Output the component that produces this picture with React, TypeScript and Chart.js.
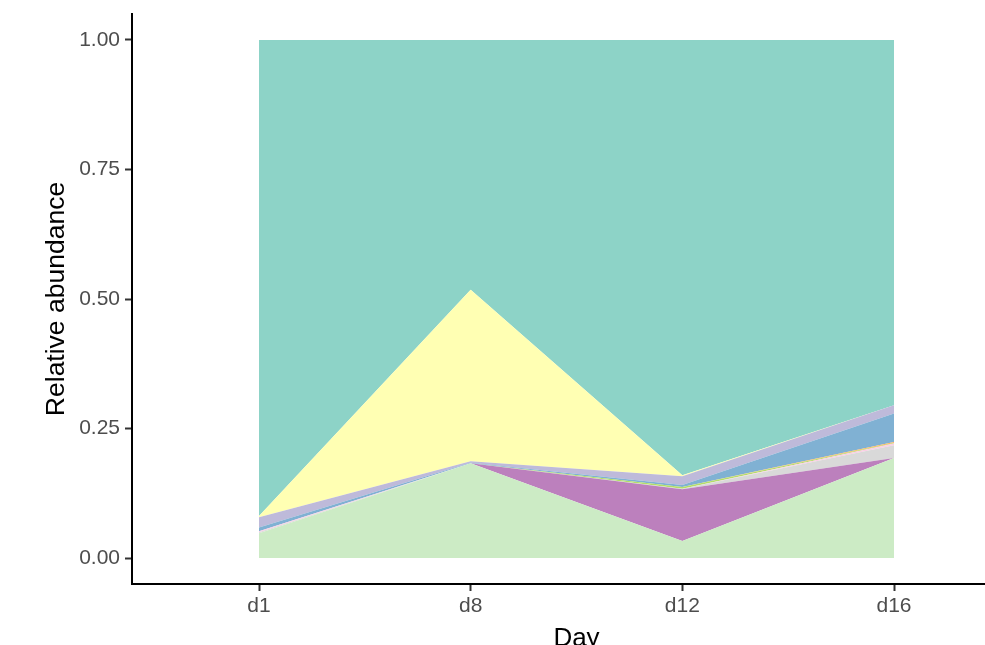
import React, { useEffect, useRef } from "react";
import { Chart, registerables } from "chart.js";

Chart.register(...registerables);

// Categories (x)
const days = ["d1", "d8", "d12", "d16"];
const dayPositions = [1, 2, 3, 4];
const yTickValues = [0, 0.25, 0.5, 0.75, 1];

// Series, listed bottom -> top of the stack
const seriesNames = [
  "Taxon K", "Taxon J", "Taxon I", "Taxon H", "Taxon G", "Taxon F",
  "Taxon E", "Taxon D", "Taxon C", "Taxon B", "Taxon A",
];
const taxonK = [0.048, 0.183, 0.033, 0.193];
const taxonJ = [0.0, 0.0, 0.1, 0.0];
const taxonI = [0.002, 0.0, 0.001, 0.025];
const taxonH = [0.002, 0.0, 0.0, 0.003];
const taxonG = [0.0, 0.0, 0.003, 0.001];
const taxonF = [0.0, 0.0, 0.0, 0.002];
const taxonE = [0.007, 0.001, 0.004, 0.055];
const taxonD = [0.0, 0.0, 0.0, 0.0];
const taxonC = [0.02, 0.003, 0.017, 0.016];
const taxonB = [0.002, 0.331, 0.002, 0.0];
const taxonA = [0.919, 0.482, 0.84, 0.705];

const seriesValues = [taxonK, taxonJ, taxonI, taxonH, taxonG, taxonF, taxonE, taxonD, taxonC, taxonB, taxonA];
const seriesColors = [
  "#CCEBC5", "#BC80BD", "#D9D9D9", "#FCCDE5", "#B3DE69", "#FDB462",
  "#80B1D3", "#FB8072", "#BEBADA", "#FFFFB3", "#8DD3C7",
];

const FONT = "'Liberation Sans', Arial, Helvetica, sans-serif";

export default function App() {
  const ref = useRef<HTMLCanvasElement | null>(null);

  useEffect(() => {
    if (!ref.current) return;
    const datasets = seriesNames.map((name, i) => ({
      label: name,
      data: dayPositions.map((x, j) => ({ x, y: seriesValues[i][j] })),
      backgroundColor: seriesColors[i],
      borderColor: seriesColors[i],
      borderWidth: 0,
      pointRadius: 0,
      pointHoverRadius: 0,
      tension: 0,
      fill: i === 0 ? "origin" : "-1",
    }));

    const chart = new Chart(ref.current, {
      type: "line",
      data: { datasets },
      options: {
        animation: false,
        responsive: false,
        maintainAspectRatio: false,
        devicePixelRatio: 1,
        layout: { padding: { left: 0, right: 19, top: 14, bottom: 0 } },
        plugins: {
          legend: { display: false },
          tooltip: { enabled: false },
          title: { display: false },
        },
        scales: {
          x: {
            type: "linear",
            min: 0.4,
            max: 4.6,
            afterBuildTicks: (scale: any) => {
              scale.ticks = dayPositions.map((v) => ({ value: v }));
            },
            afterFit: (scale: any) => {
              scale.height = 96;
              scale.paddingLeft = 0;
              scale.paddingRight = 0;
            },
            grid: {
              display: true,
              drawOnChartArea: false,
              drawTicks: true,
              tickLength: 7,
              tickColor: "#333333",
              tickWidth: 2,
            },
            border: { display: true, color: "#000000", width: 2 },
            ticks: {
              autoSkip: false,
              maxRotation: 0,
              padding: 3,
              color: "#4D4D4D",
              font: { family: FONT, size: 21 },
              callback: (v: any) => days[Math.round(v) - 1] ?? "",
            },
            title: {
              display: true,
              text: "Day",
              color: "#000000",
              font: { family: FONT, size: 26 },
              padding: { top: 0, bottom: 26 },
            },
          },
          y: {
            type: "linear",
            stacked: true,
            min: -0.05,
            max: 1.05,
            afterBuildTicks: (scale: any) => {
              scale.ticks = yTickValues.map((v) => ({ value: v }));
            },
            afterFit: (scale: any) => {
              scale.width = 132;
              scale.paddingTop = 0;
              scale.paddingBottom = 0;
            },
            grid: {
              display: true,
              drawOnChartArea: false,
              drawTicks: true,
              tickLength: 7,
              tickColor: "#333333",
              tickWidth: 2,
            },
            border: { display: true, color: "#000000", width: 2 },
            ticks: {
              padding: 5,
              color: "#4D4D4D",
              font: { family: FONT, size: 21 },
              callback: (v: any) => Number(v).toFixed(2),
            },
            title: {
              display: true,
              text: "Relative abundance",
              color: "#000000",
              font: { family: FONT, size: 26.5 },
              padding: { top: 41, bottom: 0 },
            },
          },
        },
      },
    });
    return () => chart.destroy();
  }, []);

  return (
    <div
      style={{
        position: "fixed",
        left: 0,
        top: 0,
        width: 985,
        height: 645,
        overflow: "hidden",
        background: "#ffffff",
      }}
    >
      <canvas ref={ref} width={1040} height={680} style={{ width: 1040, height: 680, display: "block" }} />
    </div>
  );
}
